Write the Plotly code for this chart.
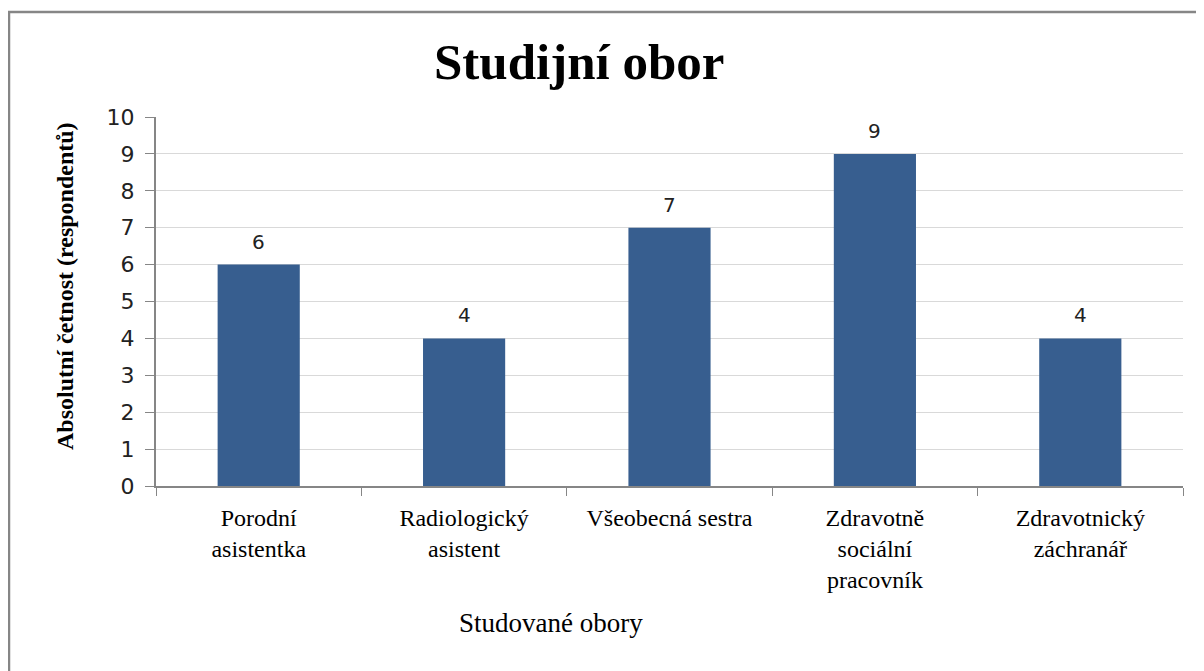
import plotly.graph_objects as go

categories = ["Porodní<br>asistentka", "Radiologický<br>asistent", "Všeobecná sestra",
              "Zdravotně<br>sociální<br>pracovník", "Zdravotnický<br>záchranář"]
values = [6, 4, 7, 9, 4]
y_ticks = [0, 1, 2, 3, 4, 5, 6, 7, 8, 9, 10]

# page has an 8px body margin; figure is sized to fit
OFF = 8
W, H = 1204 - OFF, 671 - OFF
L, T = 156 - OFF, 117 - OFF
pw = 1183 - 156
ph = 486 - 117
R = W - L - pw
B = H - T - ph

def px_x(x):
    return (x - OFF - L) / pw

def px_y(y):
    return (T + ph - (y - OFF)) / ph

fig = go.Figure(go.Bar(
    x=categories, y=values,
    marker=dict(color="#375E8F", line=dict(width=0)),
    cliponaxis=False,
))

# data labels, placed through the axis scales and lifted above each bar
for c, v in zip(categories, values):
    fig.add_annotation(x=c, y=v, xref="x", yref="y", text=str(v), showarrow=False,
                       xanchor="center", yanchor="middle", yshift=23,
                       font=dict(family="DejaVu Sans", size=20, color="#222222"))

fig.update_layout(
    width=W, height=H,
    margin=dict(l=L, r=R, t=T, b=B),
    paper_bgcolor="white", plot_bgcolor="white",
    bargap=0.6,
    showlegend=False,
    font=dict(family="Liberation Serif", color="#000000"),
)
fig.update_xaxes(
    showline=True, linecolor="#868686", linewidth=1.5,
    ticks="outside", tickson="boundaries", ticklen=8, tickcolor="#868686",
    tickfont=dict(family="Liberation Serif", size=24, color="#000000"),
    ticklabelstandoff=9,
    showgrid=False,
)
fig.update_yaxes(
    range=[0, 10], tickvals=y_ticks,
    showline=True, linecolor="#868686", linewidth=2,
    ticks="outside", ticklen=9, tickcolor="#868686",
    tickfont=dict(family="DejaVu Sans", size=22, color="#222222"),
    ticklabelstandoff=6,
    showgrid=True, gridcolor="#D9D9D9", gridwidth=1,
    zeroline=False,
)

fig.add_annotation(text="<b>Studijní obor</b>", xref="paper", yref="paper",
                   x=px_x(579), y=px_y(62), showarrow=False,
                   xanchor="center", yanchor="middle",
                   font=dict(family="Liberation Serif", size=51, color="#000000"))
fig.add_annotation(text="<b>Absolutní četnost (respondentů)</b>", xref="paper", yref="paper",
                   x=px_x(65), y=px_y(286), showarrow=False, textangle=-90,
                   xanchor="center", yanchor="middle",
                   font=dict(family="Liberation Serif", size=24, color="#000000"))
fig.add_annotation(text="Studované obory", xref="paper", yref="paper",
                   x=px_x(551), y=px_y(623), showarrow=False,
                   xanchor="center", yanchor="middle",
                   font=dict(family="Liberation Serif", size=27, color="#000000"))

fig.add_shape(type="rect", xref="paper", yref="paper",
              x0=px_x(9), y0=px_y(720), x1=px_x(1240), y1=px_y(12),
              line=dict(color="#868686", width=2.5), fillcolor="rgba(0,0,0,0)", layer="below")

fig.write_html("out.html")
